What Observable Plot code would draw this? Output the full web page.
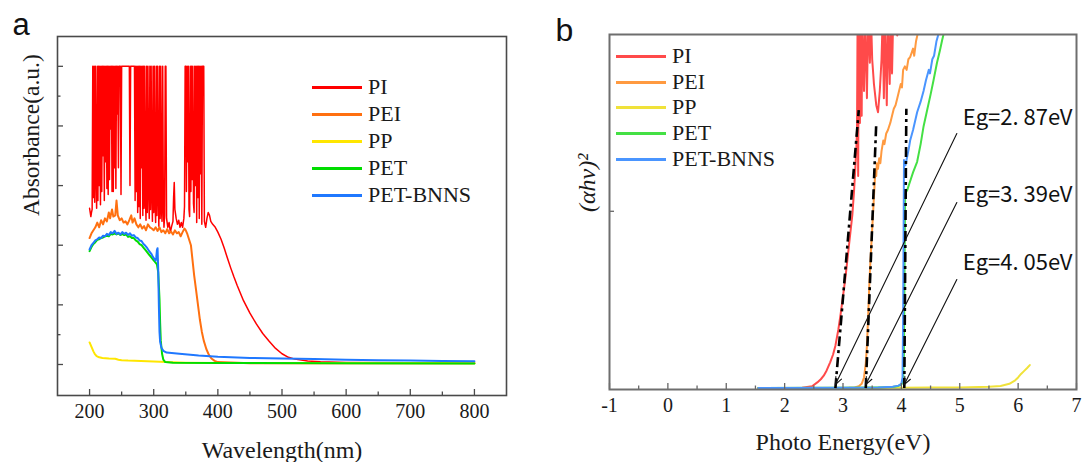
<!DOCTYPE html>
<html>
<head>
<meta charset="utf-8">
<script src="https://cdn.jsdelivr.net/npm/d3@7"></script>
<script src="https://cdn.jsdelivr.net/npm/@observablehq/plot@0.6"></script>
<style>
  html, body { margin: 0; padding: 0; background: #fff; }
  #wrap { position: relative; width: 1085px; height: 462px; overflow: hidden; }
  #panelA { position: absolute; left: 0; top: 0; }
  #panelB { position: absolute; left: 540px; top: 0; }
  .legend-item { position: absolute; display: flex; align-items: center; height: 26px;
    font-family: "Liberation Serif", "Times New Roman", serif; font-size: 22px; color: #1a1a1a; white-space: nowrap; }
  .legend-item .swatch { display: inline-block; width: 50px; height: 3px; margin-right: 6px; }
</style>
</head>
<body>
<div id="wrap">
  <div id="panelA"></div>
  <div id="panelB"></div>
</div>
<script>
// ---------- Panel a: UV-Vis absorbance vs wavelength ----------
const seriesNames = ["PI", "PEI", "PP", "PET", "PET-BNNS"];
const colorsA = ["#ff0000", "#ff7010", "#ffe600", "#00dd00", "#1f78ff"];
const colorsB = ["#ff4a4a", "#ff9a40", "#f0e23a", "#44e044", "#4a95ff"];

const wavelengthTicks = [200, 300, 400, 500, 600, 700, 800];
const wavelengthMinor = [250, 350, 450, 550, 650, 750];
const absorbanceTicks = [0, 1, 2, 3, 4, 5];
const absorbanceMinor = [0.5, 1.5, 2.5, 3.5, 4.5];

// [wavelength (nm), absorbance (a.u.)]; 5 is the detector ceiling
const piA = [
  [200,2.62],[201,2.55],[202,2.48],[203,2.55],[204,2.6],[205,5],[206,2.8],[207,5],[208,2.72],[209,5],
  [210,3.2],[211,2.62],[212,5],[213,2.75],[214,5],[215,3.0],[216,5],[217,2.68],[218,5],[219,2.9],
  [220,5],[221,3.5],[222,5],[223,2.75],[224,5],[225,3.4],[226,5],[227,2.95],[228,5],[229,2.85],
  [230,5],[231,3.1],[232,5],[233,3.95],[234,5],[235,2.9],[236,5],[237,2.9],[238,5],[239,3.3],
  [240,5],[241,2.95],[242,5],[243,4.2],[244,5],[245,3.3],[246,5],[248,5],[249,2.85],[250,5],
  [262,5],[263,3.0],[264,5],[270,5],[271,2.75],[272,5],[273,2.9],[274,5],[275,2.55],[276,5],
  [277,2.65],[278,5],[279,2.45],[280,5],[281,3.3],[282,5],[283,2.5],[284,5],[285,2.62],[286,5],
  [287,2.8],[288,2.42],[289,5],[290,2.55],[291,5],[292,3.0],[293,2.45],[294,5],[295,2.6],[296,5],
  [297,2.9],[298,2.4],[299,5],[300,2.55],[301,5],[302,2.7],[303,2.38],[304,5],[305,2.5],[306,5],
  [307,2.9],[308,2.32],[309,5],[310,2.45],[311,5],[312,2.6],[313,2.4],[314,5],[315,2.7],[316,2.3],
  [317,2.5],[318,5],[319,5],[320,2.45],[322,2.3],[324,2.38],[326,2.22],[328,2.32],[330,2.4],[331,2.8],
  [332,3.05],[333,2.6],[335,2.45],[337,2.35],[339,2.42],[341,2.3],[343,2.38],[345,2.3],[347,2.45],[348,2.65],
  [349,5],[350,5],[351,2.9],[352,5],[353,3.4],[354,5],[355,2.6],[356,2.48],[357,5],[358,2.9],
  [359,5],[360,3.1],[361,5],[362,2.7],[363,2.55],[364,5],[365,3.0],[366,5],[367,2.38],[368,5],
  [369,2.8],[370,5],[371,2.45],[372,5],[373,3.2],[374,5],[375,2.35],[376,5],[378,5],[379,2.4],
  [381,2.3],[383,2.45],[385,2.55],[387,2.5],[389,2.4],[392,2.35],[396,2.3],[400,2.22],[405,2.1],[410,1.95],
  [415,1.78],[420,1.62],[425,1.47],[430,1.33],[440,1.07],[450,0.86],[460,0.68],[470,0.52],[480,0.39],[490,0.27],
  [500,0.18],[510,0.12],[520,0.09],[540,0.06],[560,0.045],[600,0.035],[700,0.03],[800,0.03]
];
const peiA = [
  [200,2.12],[203,2.2],[206,2.25],[209,2.3],[212,2.38],[215,2.3],[218,2.42],[221,2.35],[224,2.45],[227,2.4],
  [230,2.55],[232,2.45],[235,2.6],[237,2.48],[240,2.5],[242,2.75],[244,2.5],[247,2.42],[250,2.45],[253,2.38],
  [256,2.4],[259,2.35],[262,2.42],[265,2.5],[267,2.38],[270,2.45],[273,2.35],[276,2.3],[279,2.35],[282,2.28],
  [285,2.32],[288,2.25],[291,2.35],[294,2.3],[297,2.28],[300,2.25],[303,2.3],[306,2.24],[309,2.3],[312,2.22],
  [315,2.25],[318,2.2],[321,2.27],[324,2.2],[327,2.23],[330,2.18],[333,2.25],[336,2.2],[339,2.22],[342,2.15],
  [345,2.22],[348,2.28],[350,2.25],[352,2.2],[355,2.1],[358,2.0],[360,1.8],[363,1.5],[366,1.25],[369,1.0],
  [372,0.75],[375,0.55],[378,0.4],[382,0.26],[386,0.16],[390,0.1],[395,0.06],[400,0.04],[450,0.02],[800,0.02]
];
const ppA = [
  [200,0.37],[202,0.32],[204,0.27],[206,0.22],[208,0.18],[211,0.14],[215,0.12],[220,0.11],[230,0.1],[240,0.095],
  [245,0.08],[250,0.07],[260,0.065],[280,0.06],[300,0.05],[320,0.04],[350,0.03],[400,0.025],[800,0.02]
];
const petA = [
  [200,1.9],[203,1.97],[206,2.02],[209,2.05],[212,2.09],[215,2.1],[218,2.12],[221,2.13],[224,2.15],[227,2.16],
  [230,2.15],[233,2.19],[236,2.18],[239,2.2],[242,2.18],[245,2.2],[248,2.17],[251,2.19],[254,2.17],[257,2.18],
  [260,2.14],[263,2.15],[266,2.12],[269,2.12],[272,2.08],[275,2.06],[278,2.02],[281,2.0],[284,1.96],[287,1.92],
  [290,1.88],[293,1.84],[296,1.8],[299,1.76],[302,1.72],[305,1.68],[307,1.55],[309,1.1],[310,0.7],[311,0.4],
  [313,0.18],[315,0.08],[318,0.04],[330,0.03],[400,0.025],[600,0.02],[800,0.015]
];
const petBnnsA = [
  [200,1.93],[203,2.0],[206,2.04],[209,2.08],[212,2.1],[215,2.13],[218,2.12],[221,2.16],[224,2.15],[227,2.19],
  [230,2.17],[233,2.22],[236,2.2],[239,2.24],[242,2.19],[245,2.21],[248,2.18],[251,2.22],[254,2.19],[257,2.21],
  [260,2.17],[263,2.2],[266,2.16],[269,2.17],[272,2.13],[275,2.12],[278,2.08],[281,2.07],[284,2.02],[287,1.99],
  [290,1.95],[293,1.9],[296,1.86],[299,1.8],[301,1.77],[303,1.74],[304,1.8],[305,1.92],[306,1.95],[307,1.6],
  [308,1.0],[309,0.55],[310,0.38],[312,0.28],[315,0.23],[320,0.2],[340,0.18],[370,0.15],[400,0.13],[450,0.11],
  [500,0.1],[550,0.09],[600,0.08],[650,0.07],[700,0.065],[750,0.06],[800,0.055]
];

// ---------- Panel b: Tauc plot (αhν)² vs photon energy ----------
const energyTicks = [-1, 0, 1, 2, 3, 4, 5, 6, 7];
const energyMinor = [-0.5, 0.5, 1.5, 2.5, 3.5, 4.5, 5.5, 6.5];
const taucTicks = [0.5];

// [photon energy (eV), (αhν)² normalised]
const piB = [
  [1.55,0],[2.0,0],[2.3,0.001],[2.47,0.005],[2.56,0.016],[2.62,0.025],[2.67,0.035],[2.72,0.05],[2.78,0.073],[2.83,0.095],
  [2.87,0.12],[2.92,0.165],[2.96,0.21],[3.0,0.26],[3.04,0.31],[3.07,0.355],[3.1,0.4],[3.13,0.445],[3.16,0.49],[3.19,0.56],
  [3.21,0.62],[3.23,0.68],[3.24,0.73],[3.25,1.05],[3.26,0.6],[3.27,1.05],[3.29,0.75],[3.3,1.05],[3.32,0.77],[3.33,1.05],
  [3.36,0.84],[3.38,1.05],[3.41,0.82],[3.43,1.05],[3.46,0.92],[3.48,1.05],[3.5,0.93],[3.53,0.86],[3.57,0.8],[3.6,0.78],
  [3.63,0.84],[3.66,0.93],[3.68,1.05],[3.7,0.82],[3.72,1.05],[3.75,0.8],[3.77,1.05],[3.8,0.86],[3.82,1.05],[3.84,0.89],
  [3.86,1.05],[3.93,0.997],[3.95,1.05],[4.5,1.3],[6.2,1.5]
];
const peiB = [
  [1.55,0],[2.5,0],[3.1,0.001],[3.2,0.002],[3.27,0.005],[3.32,0.012],[3.36,0.03],[3.39,0.07],[3.41,0.12],[3.43,0.2],
  [3.45,0.29],[3.47,0.36],[3.5,0.45],[3.53,0.54],[3.555,0.617],[3.57,0.6],[3.58,0.636],[3.6,0.62],[3.62,0.65],[3.64,0.636],
  [3.66,0.67],[3.69,0.7],[3.71,0.69],[3.74,0.72],[3.77,0.73],[3.81,0.75],[3.84,0.77],[3.87,0.79],[3.9,0.8],[3.93,0.82],
  [3.96,0.84],[3.99,0.86],[4.01,0.85],[4.03,0.9],[4.06,0.91],[4.09,0.9],[4.12,0.93],[4.15,0.936],[4.18,0.95],[4.2,0.96],
  [4.22,0.94],[4.25,0.98],[4.29,1.01],[4.35,1.06],[6.2,1.5]
];
const ppB = [
  [1.55,0],[4.0,0.001],[4.5,0.002],[5.0,0.002],[5.5,0.004],[5.7,0.006],[5.85,0.012],[5.95,0.022],[6.0,0.03],[6.05,0.04],
  [6.1,0.048],[6.15,0.056],[6.2,0.065]
];
const petB = [
  [1.55,0],[3.0,0.001],[3.6,0.002],[3.85,0.003],[3.95,0.006],[4.0,0.01],[4.03,0.02],[4.045,0.1],[4.055,0.35],[4.065,0.55],
  [4.1,0.56],[4.15,0.585],[4.2,0.61],[4.27,0.64],[4.33,0.69],[4.38,0.74],[4.44,0.785],[4.5,0.83],[4.55,0.87],[4.61,0.92],
  [4.66,0.955],[4.7,0.985],[4.75,1.02],[4.8,1.06],[6.2,1.5]
];
const petBnnsB = [
  [1.55,0],[3.0,0.001],[3.6,0.002],[3.85,0.004],[3.95,0.007],[4.0,0.012],[4.02,0.03],[4.03,0.2],[4.04,0.5],[4.045,0.645],
  [4.07,0.63],[4.1,0.655],[4.13,0.68],[4.15,0.7],[4.2,0.73],[4.27,0.78],[4.33,0.81],[4.38,0.84],[4.42,0.87],[4.47,0.9],
  [4.49,0.89],[4.53,0.93],[4.56,0.94],[4.6,0.98],[4.65,1.01],[4.7,1.05],[6.2,1.5]
];

// Band-gap extrapolations: intercept Eg, upper end of each tangent, arrow tail, label anchor
const bandGaps = [2.87, 3.39, 4.05];
const tangentTopE = [3.27, 3.57, 4.085];
const tangentTopY = [0.786, 0.75, 0.79];
const arrowTailE = [4.95, 4.95, 4.95];
const arrowTailY = [0.72, 0.525, 0.307];
const labelE = [5.05, 5.05, 5.05];
const labelY = [0.763, 0.546, 0.355];

const serif = "'Liberation Serif', 'Times New Roman', serif";
const axisGrey = "#4a4a4a";

const toRows = (pairs, name) => pairs.map(([x, y]) => ({x, y, name}));

// ----- build panel a -----
const dataA = [piA, peiA, ppA, petA, petBnnsA];
const widthsA = [1.5, 2, 2, 2, 2];
const wA = 540, hA = 462, mlA = 57, mrA = 34, mtA = 36, mbA = 67;
const fwA = wA - mlA - mrA, fhA = hA - mtA - mbA;

const plotA = Plot.plot({
  width: wA, height: hA,
  marginLeft: mlA, marginRight: mrA, marginTop: mtA, marginBottom: mbA,
  style: {fontFamily: serif, fontSize: "20px", color: "#1a1a1a", background: "#fff"},
  x: {domain: [150, 850], ticks: wavelengthTicks, tickSize: 0, tickPadding: 8, tickFormat: d => String(d), label: null},
  y: {domain: [-0.52, 5.5], axis: null},
  marks: [
    ...dataA.map((d, i) => Plot.line(toRows(d, seriesNames[i]), {x: "x", y: "y", stroke: colorsA[i], strokeWidth: widthsA[i], clip: true})),
    Plot.tickX(wavelengthTicks, {x: d => d, insetTop: fhA - 6, stroke: axisGrey, strokeWidth: 1.3}),
    Plot.tickX(wavelengthMinor, {x: d => d, insetTop: fhA - 3.5, stroke: axisGrey, strokeWidth: 1.3}),
    Plot.tickY(absorbanceTicks, {y: d => d, insetRight: fwA - 6, stroke: axisGrey, strokeWidth: 1.3}),
    Plot.tickY(absorbanceMinor, {y: d => d, insetRight: fwA - 3.5, stroke: axisGrey, strokeWidth: 1.3}),
    Plot.frame({stroke: axisGrey, strokeWidth: 1.6}),
    Plot.text(["Wavelength(nm)"], {text: d => d, frameAnchor: "bottom", dy: 55, fontSize: 24, lineAnchor: "middle"}),
    Plot.text(["Absorbance(a.u.)"], {text: d => d, frameAnchor: "left", dx: -26, rotate: -90, fontSize: 23.5, lineAnchor: "middle"}),
    Plot.text(["a"], {text: d => d, frameAnchor: "top-left", dx: -45, dy: -11, textAnchor: "start", lineAnchor: "middle",
      fontFamily: "'Liberation Sans', Arial, sans-serif", fontSize: 31, fill: "#111"})
  ]
});
document.getElementById("panelA").appendChild(plotA);

// ----- build panel b -----
const dataB = [piB, peiB, ppB, petB, petBnnsB];
const wB = 545, hB = 462, mlB = 69, mrB = 9, mtB = 34, mbB = 73;
const fwB = wB - mlB - mrB, fhB = hB - mtB - mbB;

const gapRows = bandGaps.map((eg, i) => ({
  eg, topE: tangentTopE[i], topY: tangentTopY[i],
  tailE: arrowTailE[i], tailY: arrowTailY[i],
  labE: labelE[i], labY: labelY[i],
  label: `Eg=${eg.toFixed(2).replace(".", ". ")}eV`
}));

const plotB = Plot.plot({
  width: wB, height: hB,
  marginLeft: mlB, marginRight: mrB, marginTop: mtB, marginBottom: mbB,
  style: {fontFamily: serif, fontSize: "20px", color: "#1a1a1a", background: "#fff"},
  x: {domain: [-1, 7], ticks: energyTicks, tickSize: 0, tickPadding: 8, tickFormat: d => String(d), label: null},
  y: {domain: [-0.004, 1], axis: null},
  marks: [
    ...dataB.map((d, i) => Plot.line(toRows(d, seriesNames[i]), {x: "x", y: "y", stroke: colorsB[i], strokeWidth: 2, clip: true})),
    Plot.link(gapRows, {x1: "eg", y1: 0, x2: "topE", y2: "topY", stroke: "#000", strokeWidth: 2.6, strokeDasharray: "10,4,3,4"}),
    Plot.arrow(gapRows, {x1: "tailE", y1: "tailY", x2: "eg", y2: 0.01, stroke: "#111", strokeWidth: 1.1, headLength: 11, headAngle: 45}),
    Plot.text(gapRows, {x: "labE", y: "labY", text: "label", textAnchor: "start", lineAnchor: "middle",
      fontFamily: "'Noto Sans CJK JP', 'Noto Sans', sans-serif", fontSize: 22, fill: "#111"}),
    Plot.tickX(energyTicks, {x: d => d, insetTop: fhB - 6, stroke: "#666", strokeWidth: 1.3}),
    Plot.tickX(energyMinor, {x: d => d, insetTop: fhB - 3.5, stroke: "#666", strokeWidth: 1.3}),
    Plot.tickY(taucTicks, {y: d => d, insetRight: fwB - 5, stroke: "#666", strokeWidth: 1.3}),
    Plot.frame({stroke: "#6e6e6e", strokeWidth: 2}),
    Plot.text(["Photo Energy(eV)"], {text: d => d, frameAnchor: "bottom", dy: 53, fontSize: 24, lineAnchor: "middle"}),
    Plot.text(["(αhν)²"], {text: d => d, frameAnchor: "left", dx: -22, rotate: -90, fontSize: 24, fontStyle: "italic", lineAnchor: "middle"}),
    Plot.text(["b"], {text: d => d, frameAnchor: "top-left", dx: -54, dy: -4, textAnchor: "start", lineAnchor: "middle",
      fontFamily: "'Liberation Sans', Arial, sans-serif", fontSize: 32, fill: "#111"})
  ]
});
document.getElementById("panelB").appendChild(plotB);

// ----- legends -----
const wrap = document.getElementById("wrap");
function addLegend(left, tops, colors) {
  seriesNames.forEach((name, i) => {
    const item = document.createElement("div");
    item.className = "legend-item";
    item.style.left = left + "px";
    item.style.top = (tops[i] - 13) + "px";
    const sw = document.createElement("span");
    sw.className = "swatch";
    sw.style.background = colors[i];
    item.appendChild(sw);
    item.appendChild(document.createTextNode(name));
    wrap.appendChild(item);
  });
}
addLegend(312, [87, 114, 141, 168, 195], colorsA);
addLegend(616, [56, 82, 107, 133, 159], colorsB);
</script>
</body>
</html>
